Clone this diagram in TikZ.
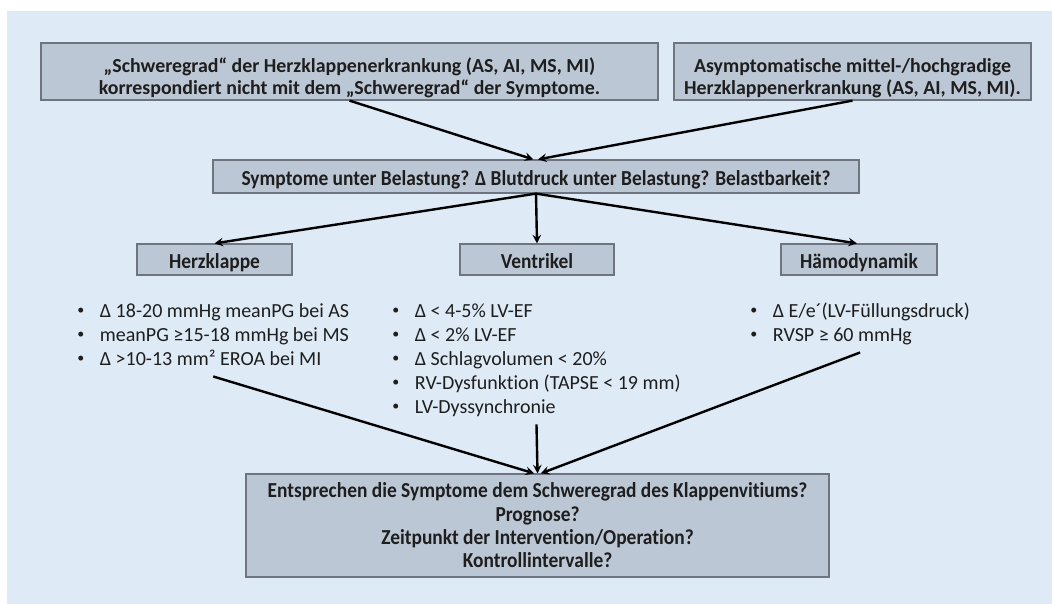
\documentclass[tikz,border=0pt]{standalone}
\usepackage{fontspec}
\setmainfont{Carlito}[Ligatures=NoCommon]
\newfontfamily\condfont[FakeStretch=0.91,Ligatures=NoCommon]{Carlito}
\definecolor{hgblau}{HTML}{DEEAF6}
\definecolor{boxgrau}{HTML}{BCC7D5}
\definecolor{randgrau}{HTML}{6E7480}
\definecolor{schrift}{HTML}{1E1E1E}
\newcommand\pkt{\makebox[17pt][l]{\raisebox{0.12em}{\scalebox{0.7}{•}}}}
\newcommand\hoch{\rule{0pt}{20pt}}
\tikzset{
  kasten/.style={draw=randgrau, fill=boxgrau, line width=0.9pt, inner sep=0pt, align=center, text=schrift,
    font=\bfseries\fontsize{14.9}{16.5}\selectfont},
  ckasten/.style={kasten, font=\condfont\bfseries\fontsize{16}{17.5}\selectfont},
  einzeilig/.style={text height=15pt, text depth=2pt},
  liste/.style={inner sep=0pt, anchor=base west, text=schrift, font=\fontsize{15}{18}\selectfont},
  pfeil/.style={->, line width=1.8pt}
}
\begin{document}
\begin{tikzpicture}[x=0.75pt,y=-0.75pt,>=stealth]
	\useasboundingbox (0,0) rectangle (1052,604);
	\fill[hgblau] (7,11) rectangle (1052,604);
	% obere Kaesten
	\node[kasten, minimum width=462.75pt, minimum height=42.75pt] (grad) at (349.5,71.5)
		{\hoch„Schweregrad“ der Herzklappenerkrankung (AS, AI, MS, MI)\\korrespondiert nicht mit dem „Schweregrad“ der Symptome.};
	\node[kasten, minimum width=267.75pt, minimum height=42.75pt] (asym) at (852.5,71.5)
		{\hoch Asymptomatische mittel-/hochgradige\\Herzklappenerkrankung (AS, AI, MS, MI).};
	\node[ckasten, einzeilig, minimum width=484.5pt, minimum height=24.75pt] (bel) at (536,176.5)
		{Symptome unter Belastung? Δ Blutdruck unter Belastung? Belastbarkeit?};
	% drei Bereiche
	\node[ckasten, einzeilig, minimum width=116.25pt, minimum height=23.25pt] (klappe) at (214.5,259.5) {Herzklappe};
	\node[ckasten, einzeilig, minimum width=115.5pt, minimum height=23.25pt] (ventr) at (537,259.5) {Ventrikel};
	\node[ckasten, einzeilig, minimum width=117pt, minimum height=23.25pt] (haemo) at (859,259.5) {Hämodynamik};
	% Listen
	\node[liste] (lklappe) at (77,317) {\begin{tabular}[t]{@{}l@{}}
		\pkt Δ 18-20 mmHg meanPG bei AS\\
		\pkt meanPG ≥15-18 mmHg bei MS\\
		\pkt Δ >10-13 mm² EROA bei MI\end{tabular}};
	\node[liste] (lventr) at (392,317) {\begin{tabular}[t]{@{}l@{}}
		\pkt Δ < 4-5\% LV-EF\\
		\pkt Δ < 2\% LV-EF\\
		\pkt Δ Schlagvolumen < 20\%\\
		\pkt RV-Dysfunktion (TAPSE < 19 mm)\\
		\pkt LV-Dyssynchronie\end{tabular}};
	\node[liste] (lhaemo) at (750,317) {\begin{tabular}[t]{@{}l@{}}
		\pkt Δ E/e´(LV-Füllungsdruck)\\
		\pkt RVSP ≥ 60 mmHg\end{tabular}};
	% Fragen
	\node[ckasten, minimum width=437.25pt, minimum height=77.25pt] (frage) at (537.5,525.5)
		{Entsprechen die Symptome dem Schweregrad des Klappenvitiums?\\Prognose?\\Zeitpunkt der Intervention/Operation?\\Kontrollintervalle?};
	% Pfeile
	\draw[pfeil] (grad.south) -- ([xshift=-2pt]bel.north);
	\draw[pfeil] (asym.south) -- ([xshift=1.5pt]bel.north);
	\draw[pfeil] (bel.south) -- (klappe.north);
	\draw[pfeil] (bel.south) -- (ventr.north);
	\draw[pfeil] (bel.south) -- ([xshift=-1.5pt]haemo.north);
	\draw[pfeil] ([yshift=-3pt]lklappe.south) -- ([xshift=-2.5pt]frage.north);
	\draw[pfeil] ([yshift=-3pt]lventr.south) -- (frage.north);
	\draw[pfeil] ([yshift=-3pt]lhaemo.south) -- ([xshift=2.5pt]frage.north);
\end{tikzpicture}
\end{document}
